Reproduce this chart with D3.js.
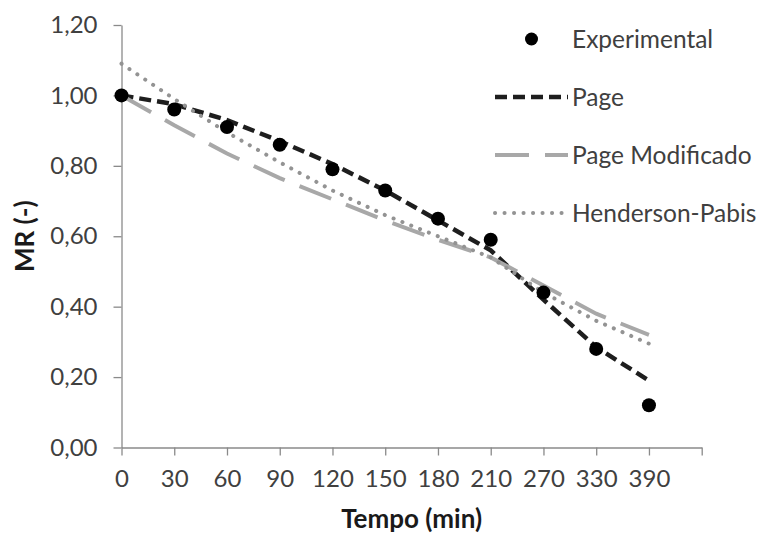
<!DOCTYPE html>
<html>
<head>
<meta charset="utf-8">
<script src="https://cdn.jsdelivr.net/npm/d3@7"></script>
<style>
  html, body { margin: 0; padding: 0; background: #fff; }
  svg { display: block; font-family: Lato, "Open Sans", sans-serif; }
</style>
</head>
<body>
<svg id="chart" width="763" height="537"></svg>
<script>
// Drying time (min) as category labels
const timeLabels = ["0", "30", "60", "90", "120", "150", "180", "210", "270", "330", "390"];

// Moisture ratio values
const experimental    = [1.00, 0.96, 0.91, 0.86, 0.79, 0.73, 0.65, 0.59, 0.44, 0.28, 0.12];
const page            = [1.00, 0.975, 0.93, 0.87, 0.805, 0.73, 0.645, 0.56, 0.42, 0.285, 0.19];
const pageModificado  = [1.00, 0.915, 0.835, 0.765, 0.705, 0.645, 0.59, 0.54, 0.46, 0.38, 0.32];
const hendersonPabis  = [1.09, 0.99, 0.895, 0.81, 0.73, 0.66, 0.60, 0.54, 0.44, 0.36, 0.295];

const yTicks = [0, 0.2, 0.4, 0.6, 0.8, 1.0, 1.2];

const seriesNames = ["Experimental", "Page", "Page Modificado", "Henderson-Pabis"];

const svg = d3.select("#chart");
const plotLeft = 121.5, plotRight = 701.7, plotTop = 25, plotBottom = 447.5;

// category axis has one trailing empty slot after the last time
const x = d3.scalePoint().domain(timeLabels.concat([""])).range([plotLeft, plotRight]).padding(0);
const y = d3.scaleLinear().domain([0, 1.2]).range([plotBottom, plotTop]);

const ptBR = d3.formatLocale({ decimal: ",", thousands: ".", grouping: [3], currency: ["", ""] });
const fmt = ptBR.format(".2f");

const axisColor = "#8a8a8a";
const labelColor = "#404040";

// y axis
const yAxis = svg.append("g")
  .attr("transform", `translate(${plotLeft},0)`)
  .call(d3.axisLeft(y).tickValues(yTicks).tickFormat(fmt).tickSize(8).tickSizeOuter(0).tickPadding(16));
// x axis
const xAxis = svg.append("g")
  .attr("transform", `translate(0,${plotBottom})`)
  .call(d3.axisBottom(x).tickSize(8).tickSizeOuter(0).tickPadding(14));

[yAxis, xAxis].forEach(g => {
  g.select(".domain").attr("stroke", axisColor).attr("stroke-width", 1.3);
  g.selectAll(".tick line").attr("stroke", axisColor).attr("stroke-width", 1.3);
  g.selectAll(".tick text").attr("fill", labelColor).style("font-size", "24px").style("font-family", "Lato, sans-serif");
});

// axis titles
svg.append("text")
  .attr("x", (plotLeft + plotRight) / 2).attr("y", 528)
  .attr("text-anchor", "middle")
  .style("font-size", "26px").style("font-weight", "bold").attr("fill", "#1a1a1a")
  .text("Tempo (min)");
svg.append("text")
  .attr("transform", `translate(34,${(plotTop + plotBottom) / 2}) rotate(-90)`)
  .attr("text-anchor", "middle")
  .style("font-size", "26px").style("font-weight", "bold").attr("fill", "#1a1a1a")
  .text("MR (-)");

// line styles per fitted model
const styles = [
  { data: page,           stroke: "#1e1e1e", width: 4.5, dash: "12,6",  cap: "butt" },
  { data: pageModificado, stroke: "#a8a8a8", width: 4,   dash: "34,16", cap: "butt" },
  { data: hendersonPabis, stroke: "#939393", width: 4,   dash: "0.1,9.4", cap: "round" }
];

const line = d3.line()
  .x((d, i) => x(timeLabels[i]))
  .y(d => y(d));

styles.forEach(s => {
  svg.append("path")
    .datum(s.data)
    .attr("d", line)
    .attr("fill", "none")
    .attr("stroke", s.stroke)
    .attr("stroke-width", s.width)
    .attr("stroke-dasharray", s.dash)
    .attr("stroke-linecap", s.cap);
});

// experimental points
svg.append("g").selectAll("circle")
  .data(experimental)
  .join("circle")
  .attr("cx", (d, i) => x(timeLabels[i]))
  .attr("cy", d => y(d))
  .attr("r", 7)
  .attr("fill", "#000");

// legend
const legend = svg.append("g");
const rowY = [39, 97, 155, 213];
const lx0 = 495, lx1 = 568, tx = 572;
legend.append("circle").attr("cx", 531.5).attr("cy", rowY[0]).attr("r", 6.5).attr("fill", "#000");
styles.forEach((s, i) => {
  legend.append("line")
    .attr("x1", lx0).attr("x2", lx1)
    .attr("y1", rowY[i + 1]).attr("y2", rowY[i + 1])
    .attr("stroke", s.stroke)
    .attr("stroke-width", s.width)
    .attr("stroke-dasharray", s.dash)
    .attr("stroke-linecap", s.cap);
});
seriesNames.forEach((name, i) => {
  legend.append("text")
    .attr("x", tx).attr("y", rowY[i])
    .attr("dy", "0.35em")
    .style("font-size", "24.5px")
    .attr("fill", labelColor)
    .text(name);
});
</script>
</body>
</html>
